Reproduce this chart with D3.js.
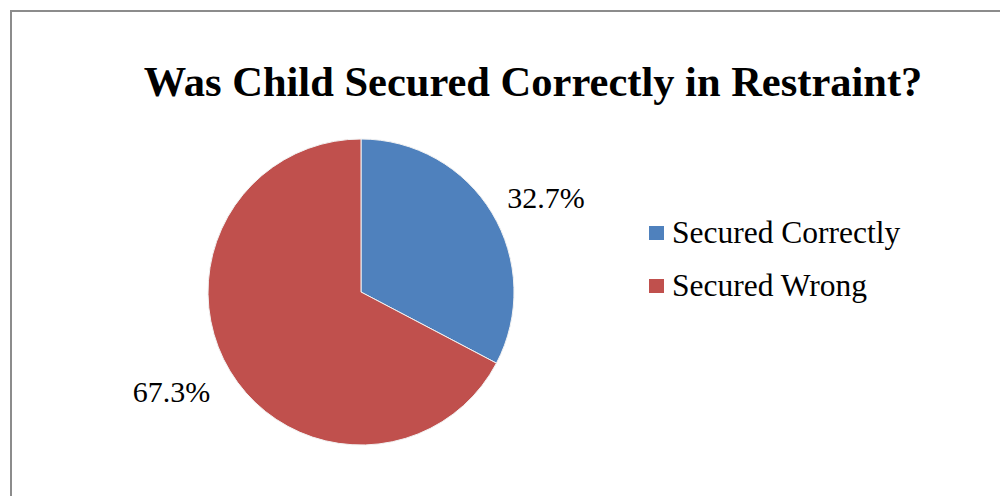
<!DOCTYPE html>
<html>
<head>
<meta charset="utf-8">
<script src="https://cdn.jsdelivr.net/npm/d3@7"></script>
<style>
  html, body { margin: 0; padding: 0; background: #fff; }
  svg { display: block; }
  text { font-family: "Liberation Serif", "Times New Roman", serif; fill: #000; }
</style>
</head>
<body>
<svg id="chart" width="1000" height="496"></svg>
<script>
// Survey result: was the child secured correctly in the restraint?
const categories = ["Secured Correctly", "Secured Wrong"];
const values = [32.7, 67.3];
const colors = ["#4f81bd", "#c0504d"];
const title = "Was Child Secured Correctly in Restraint?";

const svg = d3.select("#chart");

// chart frame
svg.append("rect")
  .attr("x", 11).attr("y", 11)
  .attr("width", 1000).attr("height", 600)
  .attr("fill", "#fff")
  .attr("stroke", "#8c8c8c")
  .attr("stroke-width", 2);

svg.append("text")
  .attr("x", 533).attr("y", 96)
  .attr("text-anchor", "middle")
  .attr("font-weight", "bold")
  .attr("font-size", 42.5)
  .text(title);

const cx = 361, cy = 292, r = 153;
const data = categories.map((c, i) => ({ name: c, value: values[i], color: colors[i] }));

const pie = d3.pie().sort(null).value(d => d.value);
const arcs = pie(data);
const arc = d3.arc().innerRadius(0).outerRadius(r);

const g = svg.append("g").attr("transform", `translate(${cx},${cy})`);
g.selectAll("path")
  .data(arcs)
  .join("path")
  .attr("d", arc)
  .attr("fill", d => d.data.color)
  .attr("stroke", "#f2f2f2")
  .attr("stroke-width", 1);

// percentage labels placed outside the rim, nudged clear of the slice edge
const labelArc = d3.arc().innerRadius(r * 1.37).outerRadius(r * 1.37);
const fmt = d3.format(".1f");
const labelNudge = [[5.5, 13.5], [-10, -8.5]];
g.selectAll("text.pct")
  .data(arcs)
  .join("text")
  .attr("class", "pct")
  .attr("font-size", 30)
  .attr("text-anchor", "middle")
  .attr("dy", "0.35em")
  .attr("transform", (d, i) => {
    const [x, y] = labelArc.centroid(d);
    return `translate(${x + labelNudge[i][0]},${y + labelNudge[i][1]})`;
  })
  .text(d => fmt(d.data.value) + "%");

// legend
const legend = svg.append("g").attr("transform", "translate(649,243)");
const row = legend.selectAll("g")
  .data(data)
  .join("g")
  .attr("transform", (d, i) => `translate(0,${i * 53})`);
row.append("rect")
  .attr("y", -17)
  .attr("width", 15).attr("height", 14)
  .attr("fill", d => d.color);
row.append("text")
  .attr("x", 23).attr("y", 0)
  .attr("font-size", 31.5)
  .text(d => d.name);
</script>
</body>
</html>
